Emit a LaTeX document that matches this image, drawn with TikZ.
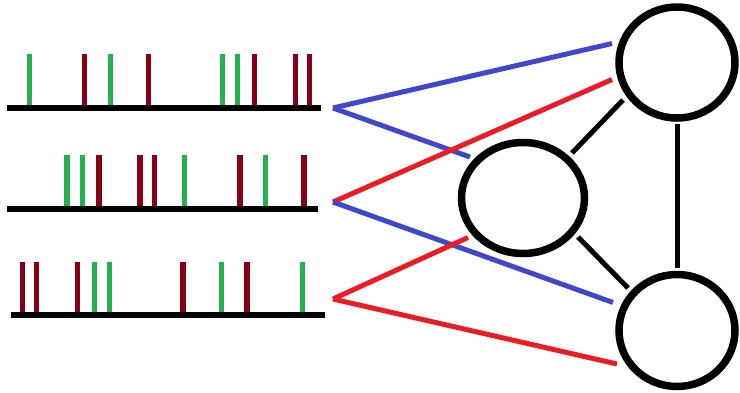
\documentclass[tikz,border=0pt]{standalone}
\usetikzlibrary{shapes.geometric}
\definecolor{spkgreen}{HTML}{22B14C}
\definecolor{spkred}{HTML}{880015}
\definecolor{linkblue}{HTML}{3F48CC}
\definecolor{linkred}{HTML}{ED1C24}
\tikzset{
  baseline/.style={line width=6pt,black},
  gspike/.style={line width=5.5pt,spkgreen},
  rspike/.style={line width=5.5pt,spkred},
  neuron/.style={draw,ellipse,line width=7.5pt,inner sep=0pt},
  bluelink/.style={line width=5pt,linkblue},
  redlink/.style={line width=5pt,linkred},
  synapse/.style={line width=5pt,black}
}
\begin{document}
\begin{tikzpicture}[x=1pt,y=-1pt]
\useasboundingbox (0,0) rectangle (740,392);
% rows
\coordinate (r1a) at (7,108); \coordinate (r1b) at (321,108);
\coordinate (r2a) at (7,209); \coordinate (r2b) at (318,209);
\coordinate (r3a) at (11,315); \coordinate (r3b) at (325,315);
% spikes row 1
\foreach \x in {29.3,110.3,222.3,237.7} \draw[gspike] (\x,54) -- (\x,106);
\foreach \x in {84.7,148.7,254.3,295.3,309.7} \draw[rspike] (\x,54) -- (\x,106);
% spikes row 2
\foreach \x in {67,82.3,184.7,265.7} \draw[gspike] (\x,155) -- (\x,207);
\foreach \x in {99,140,154.3,240,304} \draw[rspike] (\x,155) -- (\x,207);
% spikes row 3
\foreach \x in {94.3,109.3,221.7,302.3} \draw[gspike] (\x,262) -- (\x,313);
\foreach \x in {22.3,36.7,77.3,183,247} \draw[rspike] (\x,262) -- (\x,313);
\draw[baseline] (r1a) -- (r1b);
\draw[baseline] (r2a) -- (r2b);
\draw[baseline] (r3a) -- (r3b);
% neurons
\node[neuron,minimum width=116pt,minimum height=111pt] (top) at (677,62.5) {};
\node[neuron,minimum width=123pt,minimum height=111pt] (mid) at (523,198) {};
\node[neuron,minimum width=116pt,minimum height=112pt] (bot) at (677,330.5) {};
% link coordinates
\coordinate (s1) at (333,108);
\coordinate (s2) at (333,202);
\coordinate (s3) at (333,299);
\coordinate (t1) at (612,43.5);
\coordinate (t2) at (612,79.5);
\coordinate (m1) at (470,157);
\coordinate (m2) at (468,237.5);
\coordinate (b1) at (613,302.5);
\coordinate (b2) at (617,364);
\draw[bluelink] (s1) -- (t1);
\draw[bluelink] (s1) -- (m1);
\draw[redlink] (s2) -- (t2);
\draw[bluelink] (s2) -- (b1);
\draw[redlink] (s3) -- (m2);
\draw[redlink] (s3) -- (b2);
% synapses
\coordinate (tm) at (623,100); \coordinate (mt) at (572,153);
\coordinate (mb) at (578,237); \coordinate (bm) at (628,288);
\coordinate (tb) at (677,124); \coordinate (bt) at (677,268);
\draw[synapse] (tm) -- (mt);
\draw[synapse] (mb) -- (bm);
\draw[synapse] (tb) -- (bt);
\end{tikzpicture}
\end{document}
